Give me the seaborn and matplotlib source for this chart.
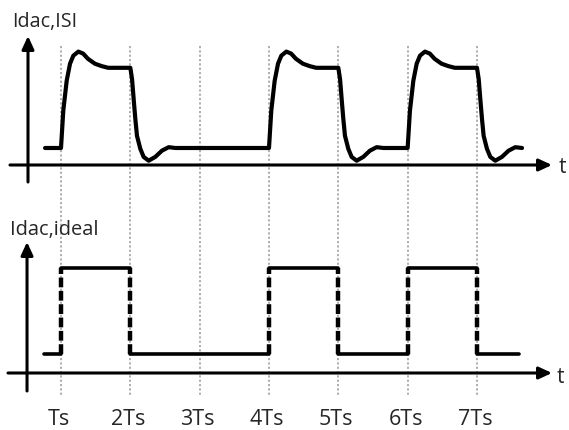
import numpy as np
import pandas as pd
import matplotlib
matplotlib.use("Agg")
import matplotlib.pyplot as plt
from matplotlib import transforms
import seaborn as sns

# ---------------- data ----------------
tick_labels = ["Ts", "2Ts", "3Ts", "4Ts", "5Ts", "6Ts", "7Ts"]
tick_pos = [1, 2, 3, 4, 5, 6, 7]

# ISI waveform (top panel), time in units of Ts
isi_rise_times = [1, 4, 6]
isi_fall_times = [2, 5, 7]
isi_start, isi_end = 0.77, 7.67
isi_low = 0.21
rise_dt = [0, 0.033, 0.082, 0.13, 0.178, 0.25, 0.32, 0.39, 0.49, 0.59, 0.68]
rise_v = [0.21, 0.67, 1.04, 1.25, 1.35, 1.40, 1.375, 1.31, 1.25, 1.22, 1.20]
fall_dt = [0, 0.025, 0.048, 0.072, 0.096, 0.144, 0.192, 0.264, 0.36, 0.456, 0.553, 0.65]
fall_v = [1.20, 1.06, 0.815, 0.57, 0.36, 0.20, 0.10, 0.053, 0.10, 0.177, 0.22, 0.21]

# Ideal waveform (bottom panel)
ideal_edges = [1, 2, 4, 5, 6, 7]
ideal_start, ideal_end = 0.755, 7.61
ideal_low, ideal_high = 0.22, 1.22

# ---------------- build tables ----------------
t_isi, v_isi = [isi_start], [isi_low]
for r, f in zip(isi_rise_times, isi_fall_times):
    t_isi += [r + d for d in rise_dt]
    v_isi += list(rise_v)
    for d, v in zip(fall_dt, fall_v):
        if f + d <= isi_end:
            t_isi.append(f + d)
            v_isi.append(v)
df_isi = pd.DataFrame({"t": t_isi, "v": v_isi})

bounds = [ideal_start] + ideal_edges + [ideal_end]
h_rows = []
for i in range(len(bounds) - 1):
    lvl = ideal_high if i % 2 == 1 else ideal_low
    h_rows += [(i, bounds[i], lvl), (i, bounds[i + 1], lvl)]
df_h = pd.DataFrame(h_rows, columns=["seg", "t", "v"])
v_rows = []
for i, e in enumerate(ideal_edges):
    v_rows += [(i, e, ideal_low), (i, e, ideal_high)]
df_v = pd.DataFrame(v_rows, columns=["seg", "t", "v"])

# ---------------- figure ----------------
sns.set_theme(style="white")
plt.rcParams["font.family"] = ["Open Sans", "DejaVu Sans"]

W, H = 569, 431
fig = plt.figure(figsize=(W / 100, H / 100), dpi=100)
xlim = (1 - 61 / 69.33, 1 + 508 / 69.33)

bg = fig.add_axes([0, 0, 1, 1], zorder=0)
bg.set_xlim(*xlim)
bg.set_ylim(H, 0)
bg.axis("off")

ax_top = fig.add_axes([0, 1 - 190 / H, 1, 160 / H], zorder=1)
ax_top.set_xlim(*xlim)
ax_top.set_ylim((166 - 190) / 81, (166 - 30) / 81)
ax_bot = fig.add_axes([0, 1 - 400 / H, 1, 168 / H], zorder=1)
ax_bot.set_xlim(*xlim)
ax_bot.set_ylim((374 - 400) / 86, (374 - 232) / 86)
for a in (ax_top, ax_bot):
    a.axis("off")
    a.patch.set_alpha(0)

# dotted sample-instant guides
for tp in tick_pos:
    bg.plot([tp, tp], [47, 397], color="#a8a8a8", lw=1.3,
            linestyle=(0, (1.2, 1.2)))

# signals
sns.lineplot(data=df_isi, x="t", y="v", ax=ax_top, color="black", lw=3.0,
             estimator=None, sort=False, legend=False)
sns.lineplot(data=df_h, x="t", y="v", units="seg", ax=ax_bot, color="black",
             lw=2.6, estimator=None, sort=False, legend=False)
sns.lineplot(data=df_v, x="t", y="v", units="seg", ax=ax_bot, color="black",
             lw=3.2, estimator=None, sort=False, legend=False,
             linestyle=(0, (2.2, 0.8)))
for a in (ax_top, ax_bot):
    a.set_xlabel("")
    a.set_ylabel("")

# axes arrows
arrow = dict(arrowstyle="-|>,head_length=0.65,head_width=0.3", lw=2.2,
             color="black", shrinkA=0, shrinkB=0, mutation_scale=12)
ax_top.annotate("", xy=(0.524, (166 - 37) / 81), xytext=(0.524, (166 - 183) / 81),
                arrowprops=arrow, annotation_clip=False)
ax_top.annotate("", xy=(8.082, 0), xytext=(0.264, 0),
                arrowprops=arrow, annotation_clip=False)
ax_bot.annotate("", xy=(0.510, (374 - 243) / 86), xytext=(0.510, (374 - 392) / 86),
                arrowprops=arrow, annotation_clip=False)
ax_bot.annotate("", xy=(8.082, 0), xytext=(0.2355, 0),
                arrowprops=arrow, annotation_clip=False)

# texts
fig.text(12 / W, 1 - 27 / H, "Idac,ISI", fontsize=14.2, va="baseline", ha="left")
fig.text(10 / W, 1 - 235 / H, "Idac,ideal", fontsize=14.4, va="baseline", ha="left")
fig.text(559 / W, 1 - 168 / H, "t", fontsize=15, va="center", ha="left")
fig.text(557 / W, 1 - 378 / H, "t", fontsize=15, va="center", ha="left")

shift = transforms.ScaledTranslation(-2 / 100, 0, fig.dpi_scale_trans)
for tp, lab in zip(tick_pos, tick_labels):
    bg.text(tp, 425, lab, fontsize=15.5, ha="center", va="baseline",
            transform=bg.transData + shift)

fig.savefig("out.png", dpi=100)
